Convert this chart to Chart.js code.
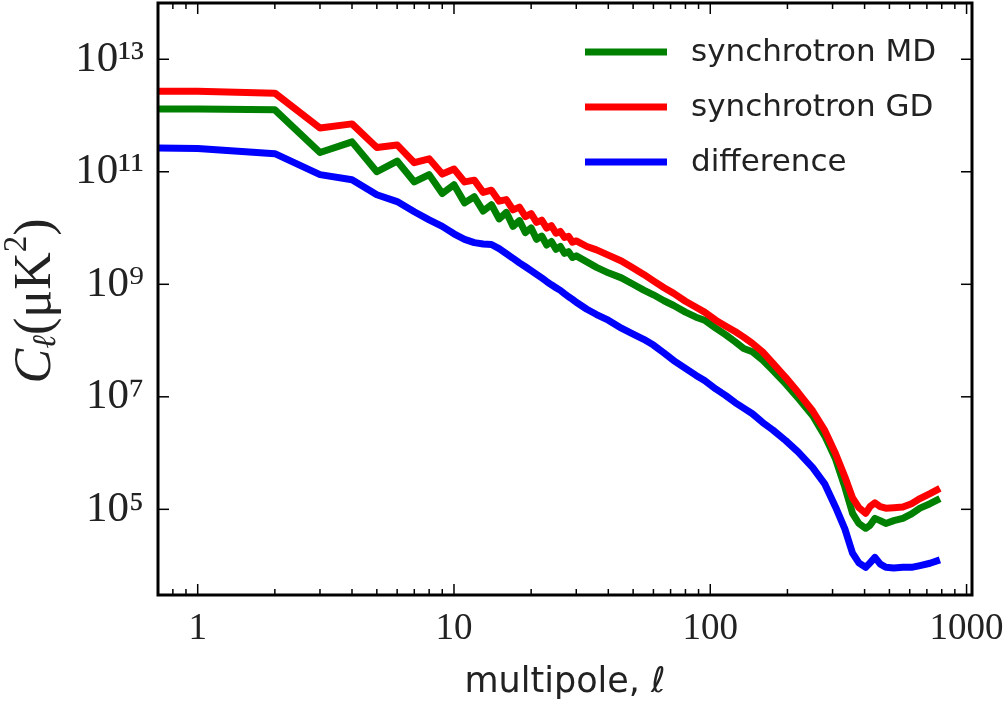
<!DOCTYPE html>
<html>
<head>
<meta charset="utf-8">
<title>Synchrotron angular power spectra</title>
<script src="https://cdn.jsdelivr.net/npm/chart.js@4"></script>
<style>
  html, body { margin: 0; padding: 0; background: #fff; }
</style>
</head>
<body>
<canvas id="myChart" width="1008" height="706"></canvas>
<script>
// multipole values (x) and the three C_l curves
const multipoles = [0.5, 1, 2, 3, 4, 5, 6, 7, 8, 9, 10, 11, 12, 13, 14, 15, 16, 17, 18, 19, 20,
  21, 22, 23, 24, 25, 26, 27, 28, 29, 30, 33, 36, 40, 45, 50, 55, 60, 66, 72, 80,
  88, 95, 105, 115, 125, 135, 146, 160, 175, 197, 220, 251, 280, 308, 335, 359, 380, 404, 420, 439,
  460, 484, 520, 564, 610, 658, 720, 787];

const synchMD = [1.3e12, 1.3e12, 1.26e12, 2.2e11, 3.4e11, 1.0e11, 1.55e11, 6.6e10, 8.9e10, 4.1e10, 5.9e10,
  2.8e10, 3.6e10, 2.0e10, 2.6e10, 1.45e10, 1.9e10, 1.07e10, 1.35e10, 8.3e9, 1.0e10,
  6.3e9, 7.2e9, 5.0e9, 5.75e9, 4.2e9, 4.7e9, 3.55e9, 3.8e9, 3.0e9, 3.2e9, 2.5e9, 2.0e9, 1.6e9, 1.3e9, 1.0e9, 7.9e8, 6.5e8, 5.1e8, 4.2e8, 3.2e8,
  2.6e8, 2.3e8, 1.66e8, 1.26e8, 9.5e7, 7.2e7, 6.3e7, 4.5e7, 3.0e7, 1.7e7, 9.5e6, 4.6e6, 2.0e6, 7.9e5, 2.5e5, 8.5e4, 5.6e4, 4.6e4, 5.2e4, 6.9e4,
  6.3e4, 5.6e4, 6.3e4, 6.9e4, 8.3e4, 1.05e5, 1.26e5, 1.55e5];

const synchGD = [2.7e12, 2.7e12, 2.5e12, 6.0e11, 7.1e11, 2.7e11, 3.0e11, 1.45e11, 1.7e11, 9.1e10, 1.12e11,
  6.6e10, 7.1e10, 4.3e10, 4.7e10, 3.0e10, 3.2e10, 2.1e10, 2.35e10, 1.6e10, 1.8e10,
  1.26e10, 1.38e10, 1.0e10, 1.1e10, 8.1e9, 8.7e9, 6.8e9, 7.1e9, 5.6e9, 5.9e9, 4.7e9, 4.1e9, 3.3e9, 2.6e9, 1.95e9, 1.5e9, 1.15e9, 8.7e8, 6.9e8, 5.0e8,
  3.9e8, 3.2e8, 2.3e8, 1.8e8, 1.45e8, 1.15e8, 8.9e7, 6.3e7, 4.0e7, 2.2e7, 1.2e7, 5.6e6, 2.5e6, 9.8e5, 3.8e5, 1.6e5, 1.07e5, 8.5e4, 1.12e5, 1.3e5,
  1.12e5, 1.05e5, 1.07e5, 1.1e5, 1.26e5, 1.55e5, 1.9e5, 2.35e5];

const difference = [2.7e11, 2.6e11, 2.1e11, 8.9e10, 7.2e10, 3.9e10, 2.95e10, 1.95e10, 1.4e10, 1.07e10, 7.9e9,
  6.3e9, 5.5e9, 5.2e9, 5.1e9, 4.3e9, 3.5e9, 2.9e9, 2.4e9, 2.05e9, 1.75e9,
  1.5e9, 1.3e9, 1.12e9, 9.8e8, 8.7e8, 7.8e8, 6.8e8, 6.0e8, 5.4e8, 4.8e8, 3.6e8, 2.9e8, 2.3e8, 1.66e8, 1.3e8, 1.05e8, 8.3e7, 6.0e7, 4.4e7, 3.2e7,
  2.4e7, 1.95e7, 1.38e7, 1.05e7, 7.9e6, 6.3e6, 5.0e6, 3.5e6, 2.6e6, 1.66e6, 1.05e6, 5.5e5, 2.8e5, 1.1e5, 4.5e4, 1.66e4, 1.12e4, 9.3e3, 1.12e4, 1.4e4,
  1.07e4, 9.3e3, 9.1e3, 9.3e3, 9.3e3, 1.0e4, 1.1e4, 1.26e4];

const seriesNames = ['synchrotron MD', 'synchrotron GD', 'difference'];
const seriesColors = ['#008000', '#ff0000', '#0000ff'];

const xTickValues = [1, 10, 100, 1000];
const xTickLabels = ['1', '10', '100', '1000'];
const yTickValues = [1e5, 1e7, 1e9, 1e11, 1e13];
const yTickLabels = ['10\u2075', '10\u2077', '10\u2079', '10\u00b9\u00b9', '10\u00b9\u00b3'];

const toPoints = (ys) => multipoles.map((l, i) => ({ x: l, y: ys[i] }));

// frame and inward ticks, like matplotlib's classic style
const frameAndTicks = {
  id: 'frameAndTicks',
  afterDraw(chart) {
    const { ctx, chartArea: a, scales: { x, y } } = chart;
    const seg = (x1, y1, x2, y2) => { ctx.beginPath(); ctx.moveTo(x1, y1); ctx.lineTo(x2, y2); ctx.stroke(); };
    ctx.save();
    ctx.strokeStyle = '#000';
    ctx.lineWidth = 1.5;
    for (let d = -1; d <= 3; d++) {
      for (let m = 1; m <= 9; m++) {
        const v = m * Math.pow(10, d);
        if (v < x.min || v > x.max) continue;
        const px = x.getPixelForValue(v);
        const len = m === 1 ? 11 : 6;
        seg(px, a.bottom, px, a.bottom - len);
        seg(px, a.top, px, a.top + len);
      }
    }
    yTickValues.forEach((v) => {
      const py = y.getPixelForValue(v);
      seg(a.left, py, a.left + 11, py);
      seg(a.right, py, a.right - 11, py);
    });
    ctx.lineWidth = 3;
    ctx.strokeRect(a.left, a.top, a.right - a.left, a.bottom - a.top);
    ctx.restore();
  }
};

// legend drawn inside the plot, top right, no frame
const insideLegend = {
  id: 'insideLegend',
  afterDraw(chart) {
    const { ctx, chartArea: a } = chart;
    ctx.save();
    chart.data.datasets.forEach((ds, i) => {
      const yy = a.top + 49 + i * 55;
      ctx.strokeStyle = ds.borderColor;
      ctx.lineWidth = 7;
      ctx.beginPath();
      ctx.moveTo(a.right - 387, yy);
      ctx.lineTo(a.right - 305, yy);
      ctx.stroke();
      ctx.fillStyle = '#222';
      ctx.font = '31px "DejaVu Sans"';
      ctx.textBaseline = 'middle';
      ctx.fillText(ds.label, a.right - 281, yy + 1);
    });
    ctx.restore();
  }
};

// y axis title C_l (muK^2), rotated, with sub/superscript
const yTitle = {
  id: 'yTitle',
  afterDraw(chart) {
    const { ctx, chartArea: a } = chart;
    const parts = [
      { t: 'C', font: 'italic 52px "Liberation Serif"', dy: 0 },
      { t: '\u2113', font: 'italic 33px "Liberation Serif"', dy: 10 },
      { t: '(\u03bcK', font: '52px "Liberation Serif"', dy: 0 },
      { t: '2', font: '33px "Liberation Serif"', dy: -19 },
      { t: ')', font: '52px "Liberation Serif"', dy: 0 }
    ];
    ctx.save();
    let total = 0;
    parts.forEach((p) => { ctx.font = p.font; p.w = ctx.measureText(p.t).width; total += p.w; });
    ctx.translate(32, (a.top + a.bottom) / 2 + 2);
    ctx.rotate(-Math.PI / 2);
    ctx.fillStyle = '#222';
    ctx.textBaseline = 'middle';
    let cx = -total / 2;
    parts.forEach((p) => {
      ctx.font = p.font;
      ctx.fillText(p.t, cx, p.dy + 4);
      cx += p.w;
    });
    ctx.restore();
  }
};

new Chart(document.getElementById('myChart'), {
  type: 'line',
  data: {
    datasets: [
      { label: seriesNames[0], data: toPoints(synchMD), borderColor: seriesColors[0], order: 1 },
      { label: seriesNames[1], data: toPoints(synchGD), borderColor: seriesColors[1], order: 0 },
      { label: seriesNames[2], data: toPoints(difference), borderColor: seriesColors[2], order: 2 }
    ]
  },
  options: {
    responsive: false,
    animation: false,
    events: [],
    devicePixelRatio: 1,
    layout: { padding: { top: 3, right: 36, left: 0, bottom: 0 } },
    elements: {
      line: { borderWidth: 7, tension: 0, fill: false, borderJoinStyle: 'round', borderCapStyle: 'butt' },
      point: { radius: 0 }
    },
    plugins: { legend: { display: false }, tooltip: { enabled: false } },
    scales: {
      x: {
        type: 'logarithmic',
        min: 0.7,
        max: 1050,
        grid: { display: false, drawTicks: false },
        border: { display: false },
        afterBuildTicks: (scale) => { scale.ticks = xTickValues.map((v) => ({ value: v })); },
        afterFit: (scale) => { scale.height = 111; scale.paddingLeft = 0; scale.paddingRight = 0; },
        ticks: {
          autoSkip: false,
          maxRotation: 0,
          padding: 12,
          color: '#222',
          font: { family: '"Liberation Serif"', size: 37 },
          callback: (v, i) => xTickLabels[i]
        },
        title: {
          display: true,
          text: 'multipole, \u2113',
          color: '#222',
          font: { family: '"DejaVu Sans"', size: 35 },
          padding: { top: 0, bottom: 2 }
        }
      },
      y: {
        type: 'logarithmic',
        min: 3000,
        max: 1e14,
        grid: { display: false, drawTicks: false },
        border: { display: false },
        afterBuildTicks: (scale) => { scale.ticks = yTickValues.map((v) => ({ value: v })); },
        afterFit: (scale) => { scale.width = 158; scale.paddingTop = 0; scale.paddingBottom = 0; },
        ticks: {
          autoSkip: false,
          padding: 14,
          color: '#222',
          font: { family: '"Liberation Serif"', size: 43 },
          callback: (v, i) => yTickLabels[i]
        }
      }
    }
  },
  plugins: [frameAndTicks, insideLegend, yTitle]
});
</script>
</body>
</html>
